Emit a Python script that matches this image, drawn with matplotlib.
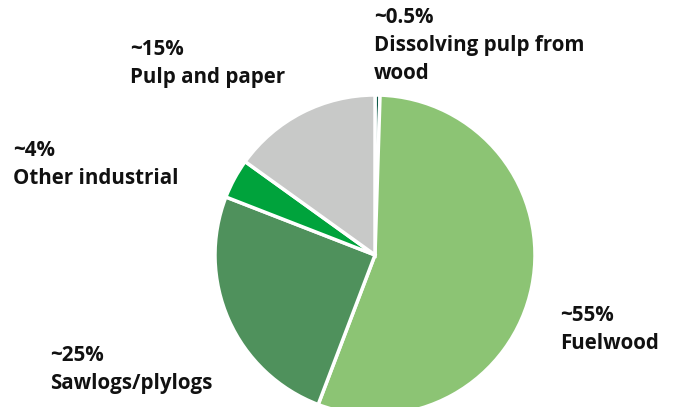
import matplotlib.pyplot as plt

# Roundwood use shares (%), clockwise from 12 o'clock
labels = ["Dissolving pulp from\nwood", "Fuelwood", "Sawlogs/plylogs", "Other industrial", "Pulp and paper"]
shares = [0.5, 55, 25, 4, 15]
share_text = ["~0.5%", "~55%", "~25%", "~4%", "~15%"]
colors = ["#0e5a48", "#8cc474", "#4f915c", "#00a33c", "#c8c9c8"]

plt.rcParams["font.family"] = ["Open Sans", "DejaVu Sans"]

fig = plt.figure(figsize=(6.79, 4.07), dpi=100)
ax = fig.add_axes([0, 0, 1, 1])

ax.pie(shares, colors=colors, startangle=90, counterclock=False,
       center=(375, 152), radius=160,
       wedgeprops=dict(edgecolor="white", linewidth=2.5), frame=True)
ax.axis("off")
ax.set_xlim(0, 679)
ax.set_ylim(0, 407)
ax.set_aspect("equal")

# label anchor points (top-left of each text block)
label_pos = [(374, 400), (560, 102), (50, 62), (13, 267), (130, 368)]
for txt, pct, (x, y) in zip(labels, share_text, label_pos):
    ax.text(x, y, pct + "\n" + txt, ha="left", va="top", fontsize=14.8,
            fontweight="bold", color="#111111", linespacing=1.45)

fig.savefig("out.png", dpi=100)
